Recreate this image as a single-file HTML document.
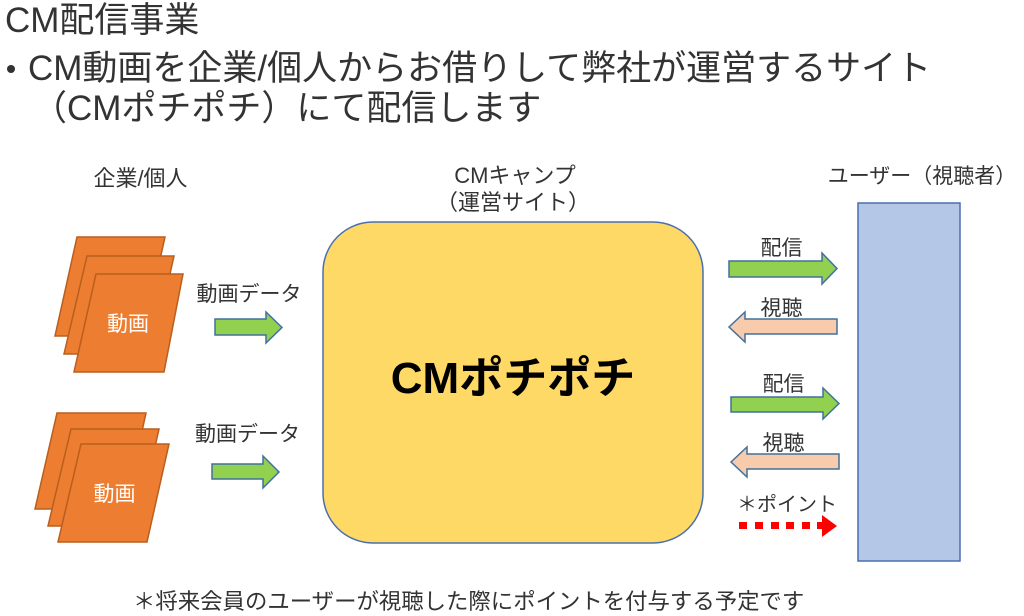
<!DOCTYPE html>
<html>
<head>
<meta charset="utf-8">
<style>
  html, body { margin:0; padding:0; background:#ffffff; }
  body { width:1024px; height:616px; overflow:hidden; }
  svg { display:block; }
  text { font-family: "Liberation Sans", "Noto Sans CJK JP", sans-serif; fill:#333333; }
</style>
</head>
<body>
<svg width="1024" height="616" viewBox="0 0 1024 616" xmlns="http://www.w3.org/2000/svg">
  <!-- Title -->
  <text x="5" y="32" font-size="35">CM配信事業</text>
  <circle cx="11" cy="69" r="4" fill="#333333"/>
  <text x="28" y="80" font-size="35">CM動画を企業/個人からお借りして弊社が運営するサイト</text>
  <text x="32" y="120" font-size="35">（CMポチポチ）にて配信します</text>

  <!-- Column labels -->
  <text x="140.5" y="186" font-size="22" text-anchor="middle">企業/個人</text>
  <text x="515" y="183" font-size="22" text-anchor="middle">CMキャンプ</text>
  <text x="513" y="210" font-size="22" text-anchor="middle">（運営サイト）</text>
  <text x="922" y="183" font-size="21" text-anchor="middle">ユーザー（視聴者）</text>

  <!-- Top parallelogram stack -->
  <g fill="#ED7D31" stroke="#B85E1F" stroke-width="1.5">
    <polygon points="77,237 165,237 143,336 55,336"/>
    <polygon points="87,256 174,256 152,354 64,354"/>
    <polygon points="96,274 183,274 164,372 74,372"/>
  </g>
  <text x="128" y="331" font-size="21" text-anchor="middle" style="fill:#ffffff">動画</text>

  <!-- Bottom parallelogram stack -->
  <g fill="#ED7D31" stroke="#B85E1F" stroke-width="1.5">
    <polygon points="57,413 146,413 125,509 35,509"/>
    <polygon points="71,429 159,429 137,526 48,526"/>
    <polygon points="81,444 169,444 147,542 58,542"/>
  </g>
  <text x="114.5" y="501" font-size="21" text-anchor="middle" style="fill:#ffffff">動画</text>

  <!-- Left arrows + labels -->
  <text x="249" y="301" font-size="21" text-anchor="middle">動画データ</text>
  <polygon points="215,319 266,319 266,312 282,327.5 266,343 266,335 215,335" fill="#92D050" stroke="#41719C" stroke-width="1.5"/>
  <text x="247.5" y="441" font-size="21" text-anchor="middle">動画データ</text>
  <polygon points="212,464 263,464 263,456 279,472 263,488 263,479 212,479" fill="#92D050" stroke="#41719C" stroke-width="1.5"/>

  <!-- Central rounded rect -->
  <rect x="323" y="222" width="380" height="321" rx="50" ry="50" fill="#FFD966" stroke="#4A6FAF" stroke-width="1.5"/>
  <text x="513" y="393" font-size="44" font-weight="bold" text-anchor="middle" style="fill:#000000">CMポチポチ</text>

  <!-- Right arrows + labels -->
  <text x="781.5" y="255" font-size="21" text-anchor="middle">配信</text>
  <polygon points="729,261 822,261 822,253 837,268.5 822,284 822,277 729,277" fill="#92D050" stroke="#41719C" stroke-width="1.5"/>

  <text x="781.5" y="315" font-size="21" text-anchor="middle">視聴</text>
  <polygon points="729,327 745,312 745,319 837,319 837,334 745,334 745,342" fill="#F8CBAD" stroke="#41719C" stroke-width="1.5"/>

  <text x="783.5" y="391" font-size="21" text-anchor="middle">配信</text>
  <polygon points="731,397 823,397 823,388 839,403.5 823,419 823,412 731,412" fill="#92D050" stroke="#41719C" stroke-width="1.5"/>

  <text x="783.5" y="450" font-size="21" text-anchor="middle">視聴</text>
  <polygon points="731,462 747,447 747,454 839,454 839,469 747,469 747,477" fill="#F8CBAD" stroke="#41719C" stroke-width="1.5"/>

  <!-- Point arrow -->
  <text x="787" y="511" font-size="20" text-anchor="middle">＊ポイント</text>
  <g fill="#FF0000">
    <rect x="739" y="522" width="8" height="7"/>
    <rect x="755" y="522" width="8" height="7"/>
    <rect x="771" y="522" width="8" height="7"/>
    <rect x="786" y="522" width="8" height="7"/>
    <rect x="802" y="522" width="8" height="7"/>
    <rect x="817" y="522" width="6" height="7"/>
    <polygon points="822,515 837,526 822,537"/>
  </g>

  <!-- User column -->
  <rect x="858" y="203" width="102" height="358" fill="#B4C7E7" stroke="#4A6FAF" stroke-width="1.5"/>

  <!-- Footnote -->
  <text x="133" y="609" font-size="22.4">＊将来会員のユーザーが視聴した際にポイントを付与する予定です</text>
</svg>
</body>
</html>
